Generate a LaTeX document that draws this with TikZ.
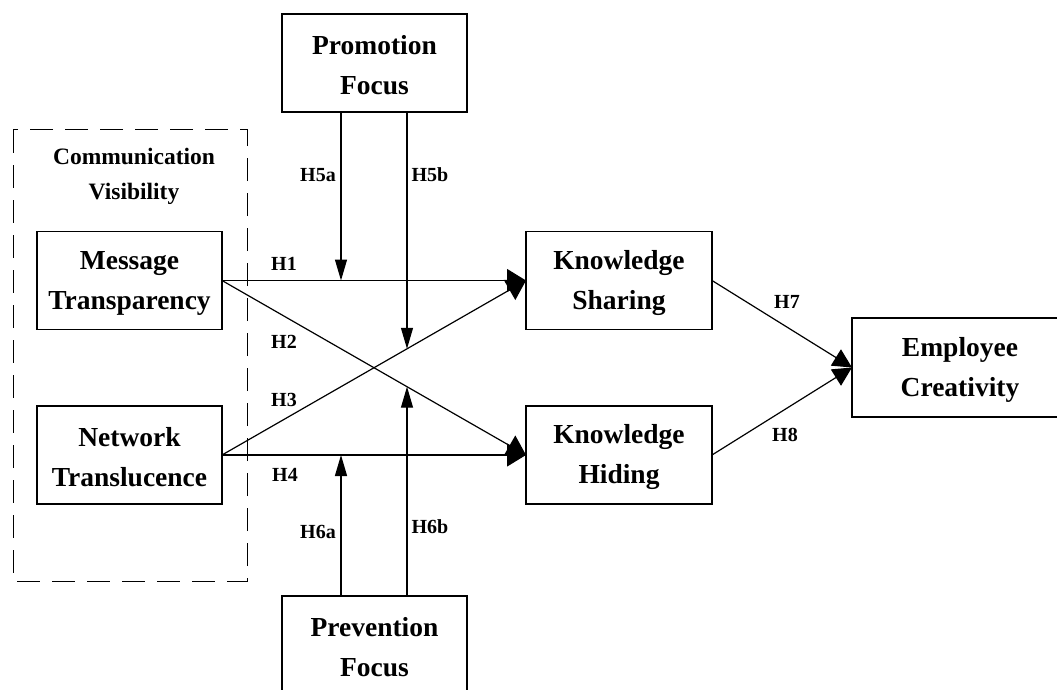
\documentclass[tikz,border=0pt]{standalone}
\usepackage{fontspec}
\setmainfont{Liberation Serif}
\usetikzlibrary{arrows.meta,calc}
\newcommand\bxstrut{\rule{0pt}{24pt}}
\begin{document}
\begin{tikzpicture}[x=1pt,y=-1pt,
  box/.style={draw, line width=1.2pt, outer sep=0pt, inner sep=0pt, align=center,
    minimum width=185pt, minimum height=98pt,
    font=\fontsize{27.5}{40}\selectfont\bfseries},
  lab/.style={font=\fontsize{20}{24}\selectfont\bfseries, inner sep=0pt},
  patharrow/.style={line width=1.2pt, -{Triangle[length=19pt,width=23pt]}},
  outarrow/.style={line width=1.2pt, -{Triangle[length=19pt,width=19pt]}},
  modarrow/.style={line width=1.2pt, -{Triangle[length=21pt,width=12pt]}},
  ]
\useasboundingbox (0,0) rectangle (1057,690);

% dashed group
\draw[line width=1pt, dash pattern=on 23pt off 12pt] (13,130) rectangle (247,581);
\node[font=\fontsize{23.5}{35}\selectfont\bfseries, align=center, inner sep=0pt] (cv) at (134,176) {Communication\\Visibility};

% boxes
\node[box] (mt) at (129.5,280.5) {\bxstrut Message\\Transparency};
\node[box] (nt) at (129.5,455) {\bxstrut Network\\Translucence};
\node[box, minimum width=186pt] (ks) at (619,280.5) {\bxstrut Knowledge\\Sharing};
\node[box, minimum width=186pt] (kh) at (619,455) {\bxstrut Knowledge\\Hiding};
\node[box, minimum width=216pt, minimum height=99pt] (ec) at (960,367.5) {\bxstrut Employee\\Creativity};
\node[box] (pf) at (374.5,63) {\bxstrut Promotion\\Focus};
\node[box] (vf) at (374.5,645) {\bxstrut Prevention\\Focus};

% main paths
\draw[patharrow] (mt.east) -- (ks.west);
\draw[patharrow] (mt.east) -- (kh.west);
\draw[patharrow] (nt.east) -- (ks.west);
\draw[patharrow] (nt.east) -- (kh.west);
\draw[outarrow] (ks.east) -- (ec.west);
\draw[outarrow] (kh.east) -- (ec.west);

% moderation targets
\coordinate (t5a) at ($(mt.east)!{(341-222)/304}!(ks.west)$);
\coordinate (t5b) at ($(nt.east)!{(407-222)/304}!(ks.west)$);
\coordinate (t6a) at ($(nt.east)!{(341-222)/304}!(kh.west)$);
\coordinate (t6b) at ($(mt.east)!{(407-222)/304}!(kh.west)$);

\draw[modarrow] (pf.south -| t5a) -- (t5a);
\draw[modarrow] (pf.south -| t5b) -- (t5b);
\draw[modarrow] (vf.north -| t6a) -- (t6a);
\draw[modarrow] (vf.north -| t6b) -- (t6b);

% labels
\node[lab] (h1) at (284,264) {H1};
\node[lab] (h2) at (284,342) {H2};
\node[lab] (h3) at (284,400) {H3};
\node[lab] (h4) at (285,475) {H4};
\node[lab] (h5a) at (318,175) {H5a};
\node[lab] (h5b) at (430,175) {H5b};
\node[lab] (h6a) at (318,532) {H6a};
\node[lab] (h6b) at (430,527) {H6b};
\node[lab] (h7) at (787,302) {H7};
\node[lab] (h8) at (785,435) {H8};
\end{tikzpicture}
\end{document}
